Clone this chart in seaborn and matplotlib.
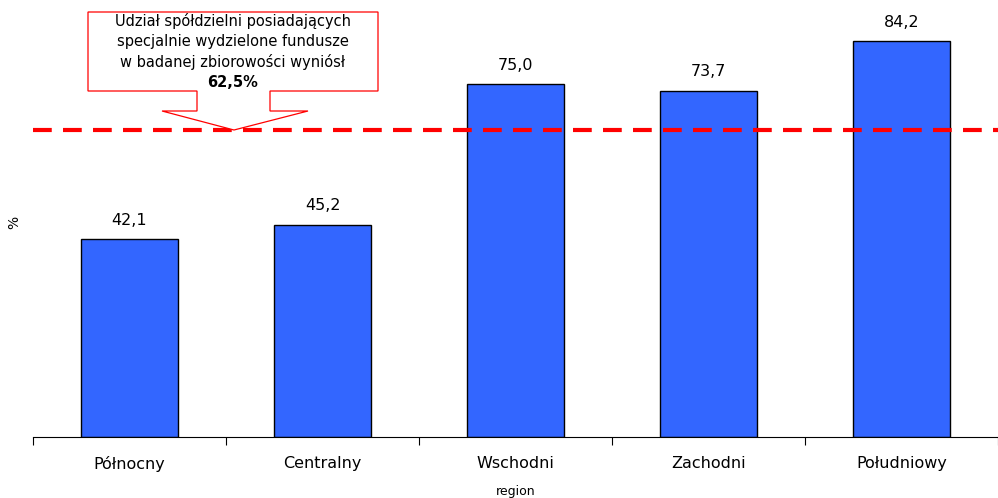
import numpy as np
import pandas as pd
import matplotlib
matplotlib.use("Agg")
import matplotlib.pyplot as plt
from matplotlib.patches import Polygon
import seaborn as sns

# data
regions = ["Północny", "Centralny", "Wschodni", "Zachodni", "Południowy"]
shares = [42.1, 45.2, 75.0, 73.7, 84.2]
overall_share = 62.5
line_level = 65.3  # where the dashed line is actually drawn
callout_lines = ["Udział spółdzielni posiadających",
                 "specjalnie wydzielone fundusze",
                 "w badanej zbiorowości wyniósł"]

df = pd.DataFrame({"region": regions, "share": shares})

sns.set_style("white")
plt.rcParams["font.family"] = ["DejaVu Sans"]
plt.rcParams["text.color"] = "black"
plt.rcParams["axes.labelcolor"] = "black"
plt.rcParams["xtick.color"] = "black"

W, H = 998, 498
fig = plt.figure(figsize=(W / 100, H / 100), dpi=100)
ax = fig.add_axes([33 / W, 61 / H, 965 / W, 423 / H])

sns.barplot(data=df, x="region", y="share", color="#3366FF", saturation=1,
            width=0.5, edgecolor="black", linewidth=1, ax=ax)

ax.set_ylim(0, 90)
ax.set_xlim(-0.5, len(regions) - 0.5)

# value labels with comma decimals
ax.bar_label(ax.containers[0], labels=[f"{v:.1f}".replace(".", ",") for v in shares],
             padding=8, fontsize=11.5, color="black")

# dashed reference line
ax.axhline(line_level, color="#FF0000", lw=3, ls=(0, (4.5, 2.7)), clip_on=False)

# axes styling
for s in ["top", "right", "left"]:
    ax.spines[s].set_visible(False)
ax.spines["bottom"].set_color("black")
ax.spines["bottom"].set_linewidth(0.8)
ax.set_yticks([])
ax.set_xticks(range(len(regions)))
ax.set_xticklabels(regions, fontsize=11.5)
ax.tick_params(axis="x", which="major", length=0, pad=14, labelcolor="black")
ax.set_xticks(np.arange(-0.5, len(regions)), minor=True)
ax.tick_params(axis="x", which="minor", bottom=True, length=6, width=0.8,
               color="black", direction="out")
ax.set_xlabel("region", fontsize=9, labelpad=9)
ax.set_ylabel("%", fontsize=10)
ax.yaxis.set_label_coords(-0.0124, 0.508)

# callout shape (figure pixel coordinates)
pts = [(88, 12), (378, 12), (378, 91), (270, 91), (270, 111), (308, 111),
       (234, 130), (162, 111), (197, 111), (197, 91), (88, 91)]
poly = Polygon([(x / W, 1 - y / H) for x, y in pts], closed=True,
               facecolor="white", edgecolor="#FF0000", lw=0.9,
               transform=fig.transFigure, zorder=5)
fig.patches.append(poly)
for i, line in enumerate(callout_lines):
    fig.text(233 / W, 1 - (21 + 20.5 * i) / H, line, ha="center", va="center",
             fontsize=10.5, zorder=6)
fig.text(233 / W, 1 - 82 / H, f"{overall_share:.1f}%".replace(".", ","),
         ha="center", va="center", fontsize=10.5, fontweight="bold", zorder=6)

fig.savefig("out.png", dpi=100)
